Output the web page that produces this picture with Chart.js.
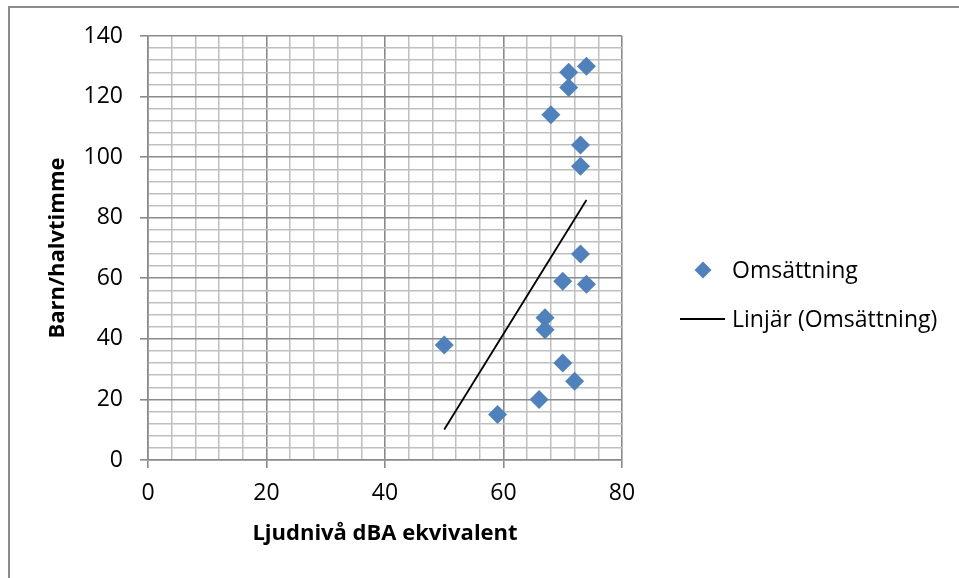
<!DOCTYPE html>
<html><head><meta charset="utf-8">
<script src="https://cdn.jsdelivr.net/npm/chart.js@4/dist/chart.umd.min.js"></script>
<style>
html,body{margin:0;padding:0;background:#fff;}
#wrap{position:relative;width:959px;height:578px;}
#frame{position:absolute;left:8px;top:6px;width:960px;height:580px;border-left:2px solid #8c8c8c;border-top:2px solid #8c8c8c;pointer-events:none;}
</style></head>
<body>
<div id="wrap"><canvas id="c" width="959" height="578"></canvas><div id="frame"></div></div>
<script>
// Data
const seriesName = 'Omsättning';
const trendName = 'Linjär (Omsättning)';
const xTitle = 'Ljudnivå dBA ekvivalent';
const yTitle = 'Barn/halvtimme';
const xValues = [74, 71, 71, 68, 73, 73, 73, 70, 74, 67, 67, 50, 70, 72, 66, 59];
const yValues = [130, 128, 123, 114, 104, 97, 68, 59, 58, 47, 43, 38, 32, 26, 20, 15];
const xTicks = [0, 20, 40, 60, 80];
const yTicks = [0, 20, 40, 60, 80, 100, 120, 140];

const FONT = "'Open Sans', 'DejaVu Sans', sans-serif";
const points = xValues.map((x, i) => ({x: x, y: yValues[i]}));

// linear regression (Excel-style linear trendline)
const n = xValues.length;
const mx = xValues.reduce((a, b) => a + b, 0) / n;
const my = yValues.reduce((a, b) => a + b, 0) / n;
let sxy = 0, sxx = 0;
for (let i = 0; i < n; i++) { sxy += (xValues[i] - mx) * (yValues[i] - my); sxx += (xValues[i] - mx) ** 2; }
const slope = sxy / sxx, icpt = my - slope * mx;
const xmin = Math.min(...xValues), xmax = Math.max(...xValues);
const trend = [{x: xmin, y: icpt + slope * xmin}, {x: xmax, y: icpt + slope * xmax}];

const MAJOR = '#8a8a8a', MINOR = '#bfbfbf';
function gridColor(ctx){ return (ctx.tick && ctx.tick.value % 20 === 0) ? MAJOR : MINOR; }
function gridWidth(ctx){ return (ctx.tick && ctx.tick.value % 20 === 0) ? 1.6 : 1.5; }
function tickColor(ctx){ return (ctx.tick && ctx.tick.value % 20 === 0) ? MAJOR : 'rgba(0,0,0,0)'; }

const legendPlugin = {
  id: 'customLegend',
  afterDraw(chart) {
    const ctx = chart.ctx;
    ctx.save();
    ctx.font = '23px ' + FONT;
    ctx.textBaseline = 'middle';
    ctx.textAlign = 'left';
    const dx = 703, dy = 270, r = 8.5;
    ctx.fillStyle = '#4f81bd';
    ctx.beginPath();
    ctx.moveTo(dx - r, dy); ctx.lineTo(dx, dy - r); ctx.lineTo(dx + r, dy); ctx.lineTo(dx, dy + r);
    ctx.closePath(); ctx.fill();
    ctx.fillStyle = '#000';
    ctx.fillText(seriesName, 732, 271);
    ctx.strokeStyle = '#000'; ctx.lineWidth = 1.8;
    ctx.beginPath(); ctx.moveTo(680, 319); ctx.lineTo(725, 319); ctx.stroke();
    ctx.fillText(trendName, 732, 320);
    ctx.restore();
  }
};

new Chart(document.getElementById('c'), {
  data: {
    datasets: [
      {type: 'scatter', label: seriesName, data: points, pointStyle: 'rectRot', pointRadius: 9.5, pointHoverRadius: 9.5,
       backgroundColor: '#4f81bd', borderColor: '#4f81bd', borderWidth: 0, order: 1},
      {type: 'line', label: trendName, data: trend, borderColor: '#000', borderWidth: 1.8, pointRadius: 0, fill: false, order: 2}
    ]
  },
  options: {
    responsive: false, animation: false, devicePixelRatio: 1,
    layout: {padding: {left: 0, top: 36, right: 337, bottom: 0}},
    plugins: {legend: {display: false}, tooltip: {enabled: false}},
    scales: {
      x: {
        type: 'linear', min: xTicks[0], max: xTicks[xTicks.length - 1],
        afterFit(s){ s.height = 118; },
        ticks: {stepSize: 4, autoSkip: false, maxRotation: 0, padding: 12, color: '#000', font: {family: FONT, size: 23},
                callback: v => xTicks.includes(v) ? String(v) : ''},
        grid: {color: gridColor, lineWidth: gridWidth, tickColor: tickColor, tickLength: 8, drawOnChartArea: true},
        border: {color: MAJOR, width: 1.6},
        title: {display: true, text: xTitle, color: '#000', font: {family: FONT, size: 22, weight: 'bold'}, padding: {top: 0, bottom: 31}}
      },
      y: {
        type: 'linear', min: yTicks[0], max: yTicks[yTicks.length - 1],
        afterFit(s){ s.width = 148; },
        ticks: {stepSize: 4, autoSkip: false, padding: 17, color: '#000', font: {family: FONT, size: 23},
                callback: v => yTicks.includes(v) ? String(v) : ''},
        grid: {color: gridColor, lineWidth: gridWidth, tickColor: tickColor, tickLength: 8},
        border: {color: MAJOR, width: 1.6},
        title: {display: true, text: yTitle, color: '#000', font: {family: FONT, size: 22, weight: 'bold'}, padding: {top: 45, bottom: 0}}
      }
    }
  },
  plugins: [legendPlugin]
});
</script>
</body></html>
